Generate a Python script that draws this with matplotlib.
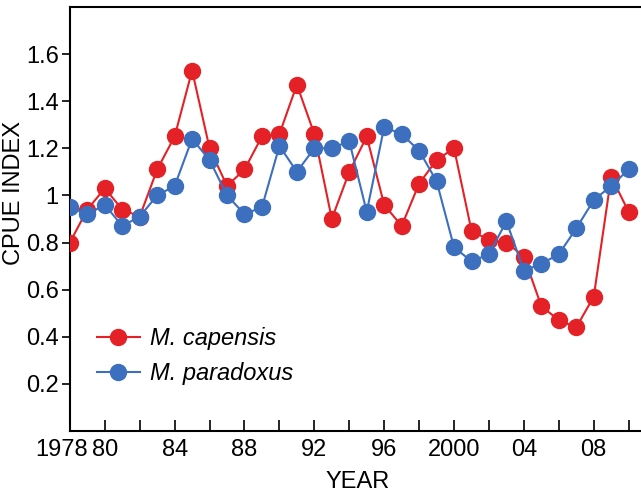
import numpy as np
import matplotlib
matplotlib.use('Agg')
import matplotlib.pyplot as plt
from matplotlib.transforms import ScaledTranslation

plt.rcParams['font.family'] = ['Liberation Sans', 'DejaVu Sans']

years = np.arange(1978, 2011)
capensis = [0.80, 0.94, 1.03, 0.94, 0.91, 1.11, 1.25, 1.53, 1.20, 1.04, 1.11,
            1.25, 1.26, 1.47, 1.26, 0.90, 1.10, 1.25, 0.96, 0.87, 1.05, 1.15,
            1.20, 0.85, 0.81, 0.80, 0.74, 0.53, 0.47, 0.44, 0.57, 1.08, 0.93]
paradoxus = [0.95, 0.92, 0.96, 0.87, 0.91, 1.00, 1.04, 1.24, 1.15, 1.00, 0.92,
             0.95, 1.21, 1.10, 1.20, 1.20, 1.23, 0.93, 1.29, 1.26, 1.19, 1.06,
             0.78, 0.72, 0.75, 0.89, 0.68, 0.71, 0.75, 0.86, 0.98, 1.04, 1.11]

major_years = [1978, 1980, 1984, 1988, 1992, 1996, 2000, 2004, 2008]
major_labels = ['1978', '80', '84', '88', '92', '96', '2000', '04', '08']
minor_years = [1982, 1986, 1990, 1994, 1998, 2002, 2006, 2010]
ytick_vals = [0.2, 0.4, 0.6, 0.8, 1.0, 1.2, 1.4, 1.6]
ytick_labels = ['0.2', '0.4', '0.6', '0.8', '1', '1.2', '1.4', '1.6']

red = '#e42126'
blue = '#3d6fbf'

fig = plt.figure(figsize=(6.41, 4.92), dpi=100)
ax = fig.add_axes([0.109, 0.124, 0.899, 0.862])

ax.plot(years, capensis, '-o', color=red, lw=1.5, ms=11.5,
        label='M. capensis', zorder=3)
ax.plot(years, paradoxus, '-o', color=blue, lw=1.5, ms=11.5,
        label='M. paradoxus', zorder=4)

ax.set_xlim(1978, 2011)
ax.set_ylim(0, 1.8)

ax.set_xticks(major_years)
ax.set_xticklabels(major_labels, fontsize=17)
ax.set_xticks(minor_years, minor=True)
ax.tick_params(axis='x', which='both', direction='in', length=8, width=1.2, pad=6)
ax.set_yticks(ytick_vals)
ax.set_yticklabels(ytick_labels, fontsize=17)
ax.tick_params(axis='y', direction='out', length=6, width=1.2, pad=2)

# push "1978" left so it doesn't crowd "80"
lbl = ax.get_xticklabels()[0]
lbl.set_transform(lbl.get_transform() + ScaledTranslation(-8.5 / 100, 0, fig.dpi_scale_trans))

ax.spines['right'].set_visible(False)
for s in ['left', 'bottom', 'top']:
    ax.spines[s].set_linewidth(1.5)

ax.set_xlabel('YEAR', fontsize=17, labelpad=7)
ax.set_ylabel('CPUE INDEX', fontsize=17)
ax.yaxis.set_label_coords(-0.078, 0.56)

leg = ax.legend(loc='center left', bbox_to_anchor=(0.031, 0.177), borderaxespad=0,
                frameon=False, handlelength=1.8, handletextpad=0.42,
                prop={'size': 17, 'style': 'italic'})

fig.savefig('out.png', dpi=100)
